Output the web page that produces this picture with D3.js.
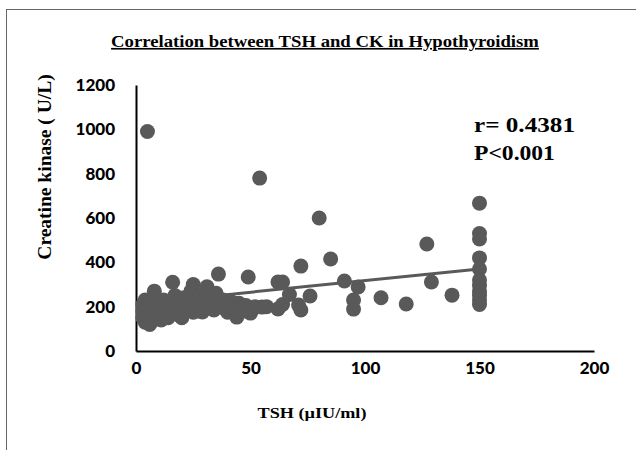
<!DOCTYPE html>
<html>
<head>
<meta charset="utf-8">
<script src="https://cdn.jsdelivr.net/npm/d3@7"></script>
<style>
  html, body { margin: 0; padding: 0; background: #fff; }
  svg { display: block; }
</style>
</head>
<body>
<div id="chart"></div>
<script>
// TSH (µIU/ml) and CK (U/L)
const tsh = [3, 3, 3, 4, 4, 4, 4, 5, 5, 5, 5, 6, 6, 6, 7, 7, 7, 7, 8, 8, 8, 9, 9, 10, 10, 10, 11, 11, 12, 12,
  13, 14, 15, 16, 16, 17, 18, 19, 20, 20, 21, 22, 23, 24, 25, 25, 26, 27, 28, 29, 30, 31, 32, 33, 34, 35,
  36, 37, 38, 39, 40, 41, 42, 43, 44, 45, 46, 47, 48, 49, 50, 51, 52, 54, 55, 57,
  62, 62, 64, 64, 67, 71, 72, 72, 76, 80, 85, 91, 95, 95, 97, 107, 118, 127, 129, 138,
  150, 150, 150, 150, 150, 150, 150, 150, 150, 150, 150];
const ck = [150, 180, 210, 130, 160, 200, 230, 990, 140, 175, 195, 120, 150, 220, 135, 165, 185, 205, 145, 270, 240, 160, 190, 150, 175, 210, 140, 200, 165, 230,
  185, 150, 210, 310, 175, 250, 200, 160, 150, 230, 240, 190, 205, 270, 300, 175, 215, 180, 250, 176, 195, 290, 210, 230, 185, 260,
  347, 207, 230, 190, 175, 198, 220, 190, 153, 215, 200, 180, 205, 334, 171, 190, 200, 780, 198, 200,
  311, 190, 311, 210, 255, 207, 383, 185, 248, 600, 415, 316, 230, 189, 289, 240, 212, 483, 311, 252,
  667, 530, 505, 420, 370, 320, 295, 270, 250, 230, 210];
const trendX = [5, 150];
const trendY = [218, 370];
const xTicks = [0, 50, 100, 150, 200];
const yTicks = [0, 200, 400, 600, 800, 1000, 1200];

const points = tsh.map((d, i) => ({ x: d, y: ck[i] }));
const trend = trendX.map((d, i) => ({ x: d, y: trendY[i] }));

const width = 636, height = 450;
const svg = d3.select("#chart").append("svg")
  .attr("width", width)
  .attr("height", height);

svg.append("rect")
  .attr("x", 6.5).attr("y", 9.5)
  .attr("width", 700).attr("height", 500)
  .attr("fill", "none")
  .attr("stroke", "#666")
  .attr("stroke-width", 1);

const x = d3.scaleLinear().domain([0, 200]).range([136, 594]);
const y = d3.scaleLinear().domain([0, 1200]).range([351, 85]);

const grey = "#595959";
const serif = "'Liberation Serif', 'Times New Roman', serif";
const sans = "Lato, 'Open Sans', sans-serif";

// axes, no tick marks
const xAxis = svg.append("g")
  .attr("transform", "translate(0," + y(0) + ")")
  .call(d3.axisBottom(x).tickValues(xTicks).tickFormat(d3.format("d")).tickSize(0).tickPadding(20));
const yAxis = svg.append("g")
  .attr("transform", "translate(" + x(0) + ",0)")
  .call(d3.axisLeft(y).tickValues(yTicks).tickFormat(d3.format("d")).tickSize(0).tickPadding(21));

[xAxis, yAxis].forEach(a => {
  a.select(".domain").attr("stroke", "#000").attr("stroke-width", 2);
  a.selectAll("text")
    .attr("fill", "#000")
    .style("font-family", sans)
    .style("font-weight", 900)
    .style("font-size", "17px");
});
xAxis.selectAll("text").attr("dy", "0.2em");

// points
svg.append("g")
  .selectAll("circle")
  .data(points)
  .join("circle")
  .attr("cx", d => x(d.x))
  .attr("cy", d => y(d.y))
  .attr("r", 7.5)
  .attr("fill", grey);

// linear trend line
svg.append("path")
  .datum(trend)
  .attr("fill", "none")
  .attr("stroke", grey)
  .attr("stroke-width", 3)
  .attr("d", d3.line().x(d => x(d.x)).y(d => y(d.y)));

// text stretched sideways to the width seen in the picture
function label(px, py, size, anchor, w, str, underline) {
  const t = svg.append("text")
    .attr("text-anchor", anchor)
    .style("font-family", serif)
    .style("font-weight", 700)
    .style("font-size", size + "px")
    .style("text-decoration", underline ? "underline" : null)
    .text(str);
  const n = t.node().getComputedTextLength();
  t.attr("transform", "translate(" + px + "," + py + ") scale(" + (w / n) + ",1)");
  return t;
}

label(325, 47, 16.5, "middle", 428, "Correlation between TSH and CK in Hypothyroidism", true);
label(312, 418, 15, "middle", 109, "TSH (µIU/ml)");
label(474, 132, 22, "start", 101, "r= 0.4381");
label(474, 160, 22, "start", 81, "P<0.001");

svg.append("text")
  .attr("transform", "translate(51,167) rotate(-90)")
  .attr("text-anchor", "middle")
  .style("font-family", serif)
  .style("font-weight", 700)
  .style("font-size", "19.5px")
  .text("Creatine kinase ( U/L)");
</script>
</body>
</html>
